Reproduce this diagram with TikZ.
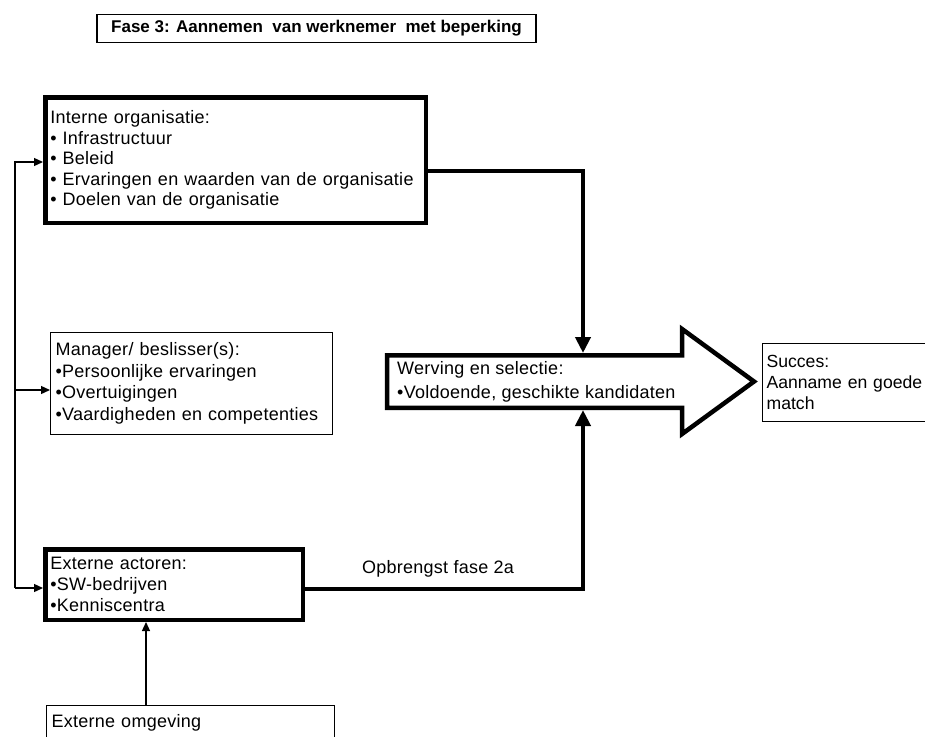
\documentclass[tikz,border=0pt]{standalone}
\usepackage{fontspec}
\setmainfont{Liberation Sans}
\usetikzlibrary{arrows.meta}
\begin{document}
\begin{tikzpicture}[x=1pt,y=-1pt,
  bodyfont/.style={font=\fontsize{18}{20.5}\selectfont\addfontfeature{LetterSpace=1.5}},
  thickbox/.style={draw, line width=4.5pt, anchor=north west, align=left, inner xsep=5pt, inner ysep=0pt, bodyfont},
  thinbox/.style={draw, line width=1.2pt, anchor=north west, align=left, inner xsep=5pt, inner ysep=0pt, bodyfont},
  thinarrow/.style={line width=1.3pt, -{Triangle[length=9pt,width=8pt]}},
  thickarrow/.style={line width=4.5pt, line join=miter, -{Triangle[length=16pt,width=15pt]}},
  bigarrow/.style={line width=4.5pt, line join=miter},
  titlebox/.style={draw, line width=1.2pt, minimum width=439pt, minimum height=28pt, inner sep=0pt,
    font=\fontsize{17}{20}\selectfont\bfseries},
]
\useasboundingbox (0,0) rectangle (925,736);

% title
\node[titlebox] (title) at (316.5,28.5) {Fase 3: Aannemen\ \ van werknemer\ \ met beperking};

% boxes
\node[thickbox, minimum width=380.5pt, text width=370.5pt, minimum height=125.5pt] (io) at (43,95)
  {Interne organisatie:\\
   \textbullet\ Infrastructuur\\
   \textbullet\ Beleid\\
   \textbullet\ Ervaringen en waarden van de organisatie\\
   \textbullet\ Doelen van de organisatie};

\node[thinbox, minimum width=281.8pt, text width=271.8pt, minimum height=101.8pt,
      font=\fontsize{18}{21.6}\selectfont\addfontfeature{LetterSpace=1.5}] (mg) at (50,332)
  {Manager/ beslisser(s):\\
   \textbullet Persoonlijke ervaringen\\
   \textbullet Overtuigingen\\
   \textbullet Vaardigheden en competenties};

\node[thickbox, minimum width=257.5pt, text width=247.5pt, minimum height=70.5pt,
      font=\fontsize{18}{21}\selectfont\addfontfeature{LetterSpace=1.5}] (ea) at (43,547)
  {Externe actoren:\\
   \textbullet SW-bedrijven\\
   \textbullet Kenniscentra};

\node[thinbox, minimum width=180pt, text width=172pt, minimum height=78pt, inner xsep=3pt,
      font=\fontsize{17.6}{21}\selectfont] (sc) at (762,343)
  {Succes:\\
   Aanname en goede\\
   match};

\node[thinbox, minimum width=288pt, text width=278pt, inner ysep=9pt] (eo) at (46,705)
  {Externe omgeving};

% big arrow
\draw[bigarrow] (387,355.25) -- (682,355.25) -- (682,329) -- (754,381.5) -- (682,434)
  -- (682,407.75) -- (387,407.75) -- cycle;
\node[anchor=north west, align=left, inner sep=0pt,
      font=\fontsize{18}{24}\selectfont\addfontfeature{LetterSpace=1.5}] (ws) at (397,361)
  {Werving en selectie:\\
   \textbullet Voldoende, geschikte kandidaten};

\coordinate (wtop) at (583,353);
\coordinate (wbot) at (583,410);

% connectors to big arrow
\coordinate (c1) at (583,171);
\coordinate (c2) at (583,589);
\draw[thickarrow] (io.east |- c1) -- (c1) -- (wtop);
\draw[thickarrow] (ea.east |- c2) -- (c2) -- (wbot);
\node[anchor=base, inner sep=0pt, font=\fontsize{18}{20}\selectfont\addfontfeature{LetterSpace=1.5}] (ob) at (438,573) {Opbrengst fase 2a};

% left feedback line
\coordinate (l1) at (15,162);
\coordinate (l2) at (15,390);
\coordinate (l3) at (15,588);
\draw[thinarrow] (l3) -- (l1) -- (l1 -| io.west);
\draw[thinarrow] (l2) -- (l2 -| mg.west);
\draw[thinarrow] (l3) -- (l3 -| ea.west);

% externe omgeving to externe actoren
\coordinate (ax) at (146,0);
\draw[thinarrow] (eo.north -| ax) -- (ea.south -| ax);
\end{tikzpicture}
\end{document}
